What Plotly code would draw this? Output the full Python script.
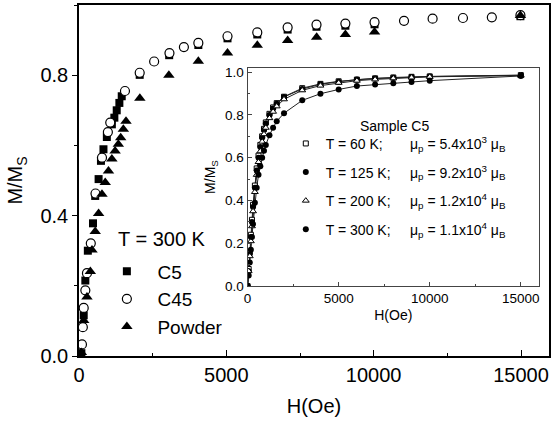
import plotly.graph_objects as go

# ---------------- main plot data (T = 300 K) ----------------
h_c5 = [80, 160, 215, 300, 475, 550, 665, 745, 830, 945, 1115, 1200, 1280, 1370, 1450,
        2060, 3060, 4050, 5040, 6050, 7080, 8060, 9040, 10030, 14980]
m_c5 = [0.008, 0.116, 0.215, 0.300, 0.378, 0.456, 0.504, 0.556, 0.589, 0.624, 0.660, 0.679, 0.700, 0.721, 0.740,
        0.801, 0.857, 0.886, 0.905, 0.916, 0.930, 0.938, 0.941, 0.945, 0.968]

h_c45 = [100, 130, 160, 215, 270, 400, 560, 780, 980, 1060, 1560, 2060, 2550, 3070, 3560, 4050,
         5040, 6050, 7080, 8060, 9040, 10030, 11030, 12000, 13030, 14010, 14980]
m_c45 = [0.033, 0.082, 0.137, 0.187, 0.236, 0.321, 0.463, 0.565, 0.638, 0.665, 0.755, 0.807, 0.839, 0.863, 0.880, 0.892,
         0.911, 0.922, 0.936, 0.944, 0.947, 0.951, 0.955, 0.961, 0.963, 0.965, 0.971]

h_pow = [80, 160, 270, 385, 440, 550, 665, 780, 890, 1000, 1115, 1225, 1335, 1415, 1505, 1595,
         2065, 3050, 4050, 5040, 6050, 7080, 8065, 9040, 10030, 14980]
m_pow = [0.010, 0.101, 0.168, 0.241, 0.302, 0.355, 0.406, 0.461, 0.494, 0.527, 0.561, 0.584, 0.603, 0.622, 0.646, 0.669,
         0.734, 0.800, 0.840, 0.863, 0.885, 0.899, 0.908, 0.916, 0.923, 0.970]

# ---------------- inset data (Sample C5) ----------------
h_in = [0, 60, 120, 180, 240, 300, 400, 500, 600, 700, 800, 900, 1000, 1200, 1400, 1600,
        2000, 3000, 4000, 5000, 6000, 7000, 8000, 9000, 10000, 15000]
m_60 = [0.0, 0.08, 0.16, 0.24, 0.31, 0.38, 0.47, 0.55, 0.61, 0.66, 0.70, 0.735, 0.765, 0.805, 0.835, 0.855,
        0.885, 0.925, 0.945, 0.957, 0.965, 0.971, 0.975, 0.978, 0.980, 0.986]
m_125 = [0.0, 0.07, 0.15, 0.23, 0.30, 0.37, 0.46, 0.54, 0.60, 0.65, 0.695, 0.73, 0.76, 0.80, 0.83, 0.852,
         0.884, 0.921, 0.943, 0.955, 0.965, 0.970, 0.974, 0.977, 0.979, 0.985]
m_200 = [0.0, 0.07, 0.14, 0.21, 0.28, 0.35, 0.44, 0.52, 0.58, 0.63, 0.675, 0.71, 0.74, 0.785, 0.815, 0.84,
         0.873, 0.915, 0.937, 0.950, 0.960, 0.966, 0.971, 0.975, 0.978, 0.984]
m_300 = [0.0, 0.05, 0.11, 0.17, 0.23, 0.29, 0.39, 0.46, 0.52, 0.56, 0.60, 0.633, 0.66, 0.705, 0.74, 0.77,
         0.808, 0.868, 0.899, 0.919, 0.935, 0.942, 0.948, 0.954, 0.960, 0.982]

main_names = ["\u00a0\u00a0C5", "\u00a0\u00a0C45", "\u00a0\u00a0Powder"]
sp = "\u00a0"
inset_names = [
    "T = 60 K;" + sp * 7 + "μ<sub>p</sub> = 5.4x10<sup>3</sup> μ<sub>B</sub>",
    "T = 125 K;" + sp * 5 + "μ<sub>p</sub> = 9.2x10<sup>3</sup> μ<sub>B</sub>",
    "T = 200 K;" + sp * 5 + "μ<sub>p</sub> = 1.2x10<sup>4</sup> μ<sub>B</sub>",
    "T = 300 K;" + sp * 5 + "μ<sub>p</sub> = 1.1x10<sup>4</sup> μ<sub>B</sub>",
]

FONT = "Arial, Liberation Sans, Helvetica, sans-serif"

fig = go.Figure()

# main traces
fig.add_trace(go.Scatter(x=h_c5, y=m_c5, mode="markers", name=main_names[0],
                         marker=dict(symbol="square", size=8, color="black"),
                         xaxis="x", yaxis="y", legend="legend"))
fig.add_trace(go.Scatter(x=h_c45, y=m_c45, mode="markers", name=main_names[1],
                         marker=dict(symbol="circle", size=9, color="white",
                                     line=dict(color="black", width=1.2)),
                         xaxis="x", yaxis="y", legend="legend"))
fig.add_trace(go.Scatter(x=h_pow, y=m_pow, mode="markers", name=main_names[2],
                         marker=dict(symbol="triangle-up", size=10, color="black"),
                         xaxis="x", yaxis="y", legend="legend"))

# inset traces: fitted lines (no legend) + markers (legend)
inset_specs = [
    (m_60, dict(symbol="square", size=5, color="white", line=dict(color="black", width=1))),
    (m_125, dict(symbol="circle", size=6, color="black")),
    (m_200, dict(symbol="triangle-up", size=6, color="white", line=dict(color="black", width=1))),
    (m_300, dict(symbol="circle", size=6, color="black")),
]
for i, (m, mk) in enumerate(inset_specs):
    fig.add_trace(go.Scatter(x=h_in, y=m, mode="lines", showlegend=False,
                             line=dict(color="#222222", width=1),
                             xaxis="x2", yaxis="y2", hoverinfo="skip"))
for i, (m, mk) in enumerate(inset_specs):
    fig.add_trace(go.Scatter(x=h_in, y=m, mode="markers", name=inset_names[i],
                             marker=mk, xaxis="x2", yaxis="y2",
                             legend="legend2", legendgroup="g%d" % i))

fig.update_layout(
    width=553, height=426,
    margin=dict(l=79, r=2, t=4, b=70),
    paper_bgcolor="white", plot_bgcolor="white",
    font=dict(family=FONT, color="black"),
    xaxis=dict(domain=[0, 1], range=[0, 15950], showgrid=False, zeroline=False,
               showline=True, linecolor="black", linewidth=1.5, mirror=True,
               ticks="inside", ticklen=6, tickwidth=1.2, tickcolor="black",
               tick0=0, dtick=5000, tickformat="d", tickfont=dict(size=20),
               minor=dict(ticks="inside", ticklen=3, dtick=2500, tickcolor="black"),
               title=dict(text="H(Oe)", font=dict(size=20), standoff=14)),
    yaxis=dict(domain=[0, 1], range=[0, 1.0], showgrid=False, zeroline=False,
               showline=True, linecolor="black", linewidth=1.5, mirror=True,
               ticks="outside", ticklen=5, tickwidth=1.2, tickcolor="black",
               tick0=0, dtick=0.4, tickformat=".1f", tickfont=dict(size=20),
               minor=dict(ticks="outside", ticklen=3, dtick=0.2, tickcolor="black"),
               title=dict(text="M/M<sub>S</sub>", font=dict(size=20), standoff=12)),
    xaxis2=dict(domain=[0.3587, 0.9788], anchor="y2", range=[0, 16000], showgrid=False, zeroline=False,
                showline=True, linecolor="#444444", linewidth=1, mirror=True,
                ticks="inside", ticklen=4, tickcolor="#444444",
                tick0=0, dtick=5000, tickformat="d", tickfont=dict(size=13.5),
                minor=dict(ticks="inside", ticklen=2, dtick=2500, tickcolor="#444444"),
                title=dict(text="H(Oe)", font=dict(size=14), standoff=4)),
    yaxis2=dict(domain=[0.199, 0.821], anchor="x2", range=[0, 1.02], showgrid=False, zeroline=False,
                showline=True, linecolor="#444444", linewidth=1, mirror=True,
                ticks="inside", ticklen=4, tickcolor="#444444",
                tick0=0, dtick=0.2, tickformat=".1f", tickfont=dict(size=13.5),
                minor=dict(ticks="inside", ticklen=2, dtick=0.1, tickcolor="#444444"),
                title=dict(text="M/M<sub>S</sub>", font=dict(size=14), standoff=6)),
    legend=dict(x=0.0593, y=0.2955, xanchor="left", yanchor="top",
                bgcolor="rgba(0,0,0,0)", borderwidth=0, font=dict(size=19)),
    legend2=dict(x=0.44, y=0.650, xanchor="left", yanchor="top",
                 bgcolor="rgba(0,0,0,0)", borderwidth=0, font=dict(size=14),
                 tracegroupgap=7.4),
    annotations=[
        dict(text="T = 300 K", x=0, y=0, xref="paper", yref="paper", showarrow=False,
             font=dict(size=20), xanchor="left", yanchor="middle"),
        dict(text="Sample C5", x=0, y=0, xref="paper", yref="paper", showarrow=False,
             font=dict(size=14), xanchor="center", yanchor="middle"),
    ],
)

# place annotations using plot-area fractions (pixel targets converted)
W, H = 553 - 79 - 2, 426 - 4 - 70
def px_to_paper(px, py):
    return (px - 79) / W, (426 - 70 - py) / H
ax, ay = px_to_paper(116, 239)
fig.layout.annotations[0].update(x=ax, y=ay)
bx, by = px_to_paper(396, 125)
fig.layout.annotations[1].update(x=bx, y=by)

fig.write_html("out.html")
